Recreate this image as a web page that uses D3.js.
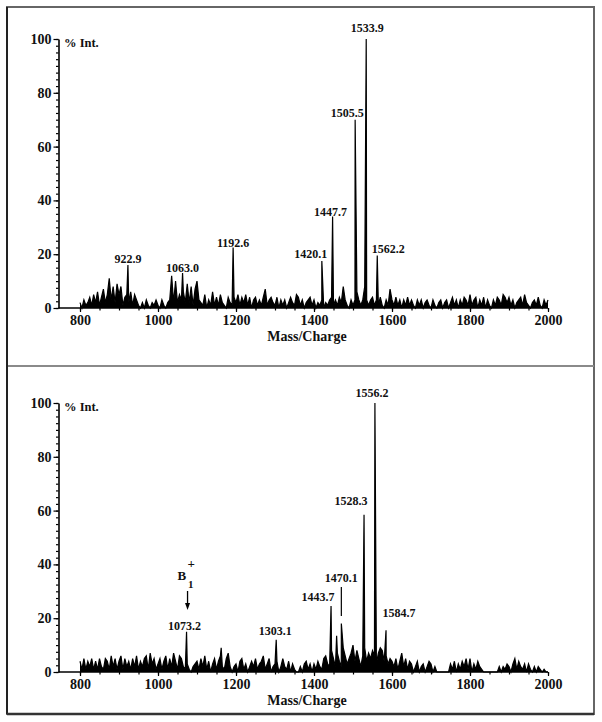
<!DOCTYPE html>
<html>
<head>
<meta charset="utf-8">
<script src="https://cdn.jsdelivr.net/npm/d3@7"></script>
<style>
  body { margin: 0; background: #fff; }
  text { font-family: "Liberation Serif", "Times New Roman", serif; font-weight: bold; fill: #111; }
</style>
</head>
<body>
<div id="chart"></div>
<script>
// m/z sampling grid of the noise traces
var mzStart = 800, mzStep = 5;

// top spectrum, % intensity every 5 m/z from 800 to 2000
var topNoise = [
  2,0,3,1,2,4,1,5,2,6,1,4,7,2,5,11,3,8,2,9,
  5,8,1,4,5,2,6,1,5,3,1,0,2,0,3,1,0,2,1,3,
  1,0,3,1,0,2,3,12,2,10,2,5,3,6,2,9,2,8,1,7,
  10,3,2,1,5,0,3,1,6,1,4,1,5,2,1,0,4,2,1,4,
  2,5,1,4,2,5,1,4,0,3,4,1,3,1,4,7,1,3,4,2,
  1,4,0,3,1,3,0,2,4,2,1,5,4,1,3,0,2,3,4,1,
  3,0,2,1,3,0,2,1,3,4,1,3,1,4,2,8,3,1,0,3,
  1,3,6,3,1,3,8,3,1,3,4,1,3,1,4,1,0,3,1,7,
  3,1,4,1,3,0,3,1,4,1,3,1,0,3,1,3,0,2,3,1,
  0,3,1,0,2,3,0,2,3,0,2,4,1,3,0,3,1,4,3,1,
  5,1,3,4,0,3,1,4,0,3,1,0,3,1,4,3,1,5,4,2,
  4,1,3,0,2,3,4,1,5,2,1,0,2,3,1,4,1,0,3,1,
  3
];

// bottom spectrum, same grid
var bottomNoise = [
  4,1,5,1,4,2,5,1,4,1,5,2,1,5,4,1,6,2,5,1,
  4,6,1,5,2,4,1,5,2,6,1,4,2,5,6,1,7,3,5,1,
  3,5,1,4,6,1,5,2,7,4,1,6,5,2,1,3,1,0,2,3,
  4,1,5,2,6,1,4,0,3,5,1,4,6,2,1,5,7,2,0,2,
  3,0,4,5,1,3,0,2,4,2,5,1,3,4,6,1,3,5,0,2,
  3,4,0,2,5,2,1,4,0,3,1,0,0,2,0,3,4,1,3,0,
  3,1,4,2,1,5,6,3,2,8,5,2,7,4,2,9,6,3,5,7,
  10,4,8,5,2,6,9,4,7,5,8,6,3,7,9,8,4,6,3,5,
  4,2,5,1,4,7,2,5,1,4,3,0,2,4,0,2,3,0,2,4,
  3,0,2,0,0,0,0,0,0,0,3,1,4,0,3,1,4,2,5,1,
  5,0,3,1,4,2,1,0,0,0,0,0,0,0,0,2,0,2,1,3,
  2,0,3,5,1,4,2,1,3,0,3,1,0,2,0,2,1,0,1,0,
  0
];

var topPeaks = [
  { mz: 922.9, h: 16, label: "922.9" },
  { mz: 1063.0, h: 13, label: "1063.0" },
  { mz: 1192.6, h: 22.5, label: "1192.6" },
  { mz: 1420.1, h: 17.5, label: "1420.1" },
  { mz: 1447.7, h: 34, label: "1447.7" },
  { mz: 1505.5, h: 70, label: "1505.5" },
  { mz: 1533.9, h: 100, label: "1533.9" },
  { mz: 1562.2, h: 19.5, label: "1562.2" }
];

var bottomPeaks = [
  { mz: 1073.2, h: 15, label: "1073.2" },
  { mz: 1162, h: 9 },
  { mz: 1303.1, h: 12, label: "1303.1" },
  { mz: 1443.7, h: 24.5, label: "1443.7" },
  { mz: 1458, h: 13.5 },
  { mz: 1470.1, h: 18, label: "1470.1" },
  { mz: 1528.3, h: 58.5, label: "1528.3" },
  { mz: 1556.2, h: 100, label: "1556.2" },
  { mz: 1584.7, h: 15.5, label: "1584.7" }
];

var xTicks = [800, 1000, 1200, 1400, 1600, 1800, 2000];
var yTicks = [0, 20, 40, 60, 80, 100];

// label nudges in px (dx, dy from the peak tip)
var labelShift = {
  "922.9": [0, -2], "1063.0": [0, -1], "1192.6": [0, 0], "1420.1": [-11, -3],
  "1447.7": [-2, -1], "1505.5": [-8, -3], "1533.9": [1, -7], "1562.2": [11, -3],
  "1073.2": [-2, -2], "1303.1": [-1, -5], "1443.7": [-13, -5], "1470.1": [0, -42],
  "1528.3": [-13, -10], "1556.2": [-3, -6], "1584.7": [13, -13]
};

var width = 602, height = 722;

var svg = d3.select("#chart").append("svg")
    .attr("width", width)
    .attr("height", height);

// frame and divider
svg.append("rect")
    .attr("x", 7).attr("y", 7)
    .attr("width", 587).attr("height", 707)
    .attr("fill", "none")
    .attr("stroke", "#666")
    .attr("stroke-width", 2);
svg.append("line")
    .attr("x1", 7).attr("x2", 7).attr("y1", 7).attr("y2", 714)
    .attr("stroke", "#222").attr("stroke-width", 2);
svg.append("line")
    .attr("x1", 7).attr("x2", 594).attr("y1", 714).attr("y2", 714)
    .attr("stroke", "#333").attr("stroke-width", 2.5);
svg.append("line")
    .attr("x1", 8).attr("x2", 594).attr("y1", 366).attr("y2", 366)
    .attr("stroke", "#8a8a8a").attr("stroke-width", 2);

var panels = [
  { noise: topNoise, peaks: topPeaks, top: 39, base: 308 },
  { noise: bottomNoise, peaks: bottomPeaks, top: 403, base: 672 }
];

var axisX = 58.5;

var x = d3.scaleLinear().domain([800, 2000]).range([80, 548]);

panels.forEach(function (p, pi) {
  var y = d3.scaleLinear().domain([0, 100]).range([p.base, p.top]);
  var g = svg.append("g");

  // y axis: minor then major ticks
  g.append("g")
      .attr("transform", "translate(" + axisX + ",0)")
      .call(d3.axisLeft(y).tickValues(d3.range(0, 100.1, 2.5)).tickSize(2.5).tickSizeOuter(0).tickFormat(""))
      .call(function (s) { s.select(".domain").remove(); });
  var yAx = g.append("g")
      .attr("transform", "translate(" + axisX + ",0)")
      .call(d3.axisLeft(y).tickValues(yTicks).tickSize(5).tickSizeOuter(0).tickPadding(2).tickFormat(d3.format("d")));
  yAx.select(".domain").attr("stroke-width", 1.6);
  yAx.selectAll("text").style("font-size", "14px");

  // x axis
  g.append("g")
      .attr("transform", "translate(0," + p.base + ")")
      .call(d3.axisBottom(x).tickValues(d3.range(800, 2001, 50)).tickSize(2.5).tickSizeOuter(0).tickFormat(""))
      .call(function (s) { s.select(".domain").remove(); });
  var xAx = g.append("g")
      .attr("transform", "translate(0," + p.base + ")")
      .call(d3.axisBottom(x).tickValues(xTicks).tickSize(4).tickSizeOuter(0).tickPadding(3).tickFormat(d3.format("d")));
  xAx.select(".domain").remove();
  xAx.selectAll("text").style("font-size", "14px");
  g.append("line")
      .attr("x1", axisX).attr("x2", x(2000))
      .attr("y1", p.base).attr("y2", p.base)
      .attr("stroke", "#000").attr("stroke-width", 1.4);
  g.selectAll(".tick line").attr("stroke", "#000").attr("stroke-width", 1.2);

  g.append("text")
      .attr("x", 64).attr("y", p.top + 8)
      .style("font-size", "12.5px")
      .text("% Int.");
  g.append("text")
      .attr("x", 307).attr("y", p.base + 33)
      .attr("text-anchor", "middle")
      .style("font-size", "14px")
      .text("Mass/Charge");

  // trace: noise grid plus peak tips, sorted by m/z
  var pts = p.noise.map(function (v, i) { return [mzStart + i * mzStep, v]; })
      .concat(p.peaks.map(function (d) { return [d.mz, d.h]; }))
      .sort(function (a, b) { return a[0] - b[0]; });

  var area = d3.area()
      .x(function (d) { return x(d[0]); })
      .y0(p.base)
      .y1(function (d) { return y(d[1]); });

  var line = d3.line()
      .x(function (d) { return x(d[0]); })
      .y(function (d) { return y(d[1]); });

  g.append("path")
      .datum(pts)
      .attr("d", area)
      .attr("fill", "#000");

  g.append("path")
      .datum(pts)
      .attr("d", line)
      .attr("fill", "none")
      .attr("stroke", "#000")
      .attr("stroke-width", 1.2)
      .attr("stroke-linejoin", "miter");

  // peak labels
  g.selectAll(".plabel")
      .data(p.peaks.filter(function (d) { return d.label; }))
      .enter().append("text")
      .attr("class", "plabel")
      .attr("text-anchor", "middle")
      .style("font-size", "12px")
      .attr("x", function (d) { return x(d.mz) + labelShift[d.label][0]; })
      .attr("y", function (d) { return y(d.h) + labelShift[d.label][1]; })
      .text(function (d) { return d.label; });

  if (pi === 1) {
    // B1+ annotation with arrow at 1073.2
    var bx = x(1073.2) + 1;
    g.append("line")
        .attr("x1", bx).attr("x2", bx)
        .attr("y1", 591).attr("y2", 604)
        .attr("stroke", "#000").attr("stroke-width", 1.3);
    g.append("path")
        .attr("d", "M" + (bx - 2.5) + ",603 L" + (bx + 2.5) + ",603 L" + bx + ",610 Z")
        .attr("fill", "#000");
    g.append("text").attr("x", bx - 10).attr("y", 580).style("font-size", "13px").text("B");
    g.append("text").attr("x", bx + 0.5).attr("y", 588).style("font-size", "11px").text("1");
    g.append("text").attr("x", bx).attr("y", 568).style("font-size", "13px").text("+");

    // marker line under the 1470.1 label
    var mx = x(1470.1);
    g.append("line")
        .attr("x1", mx).attr("x2", mx)
        .attr("y1", 587).attr("y2", 616)
        .attr("stroke", "#000").attr("stroke-width", 1.2);
  }
});
</script>
</body>
</html>
